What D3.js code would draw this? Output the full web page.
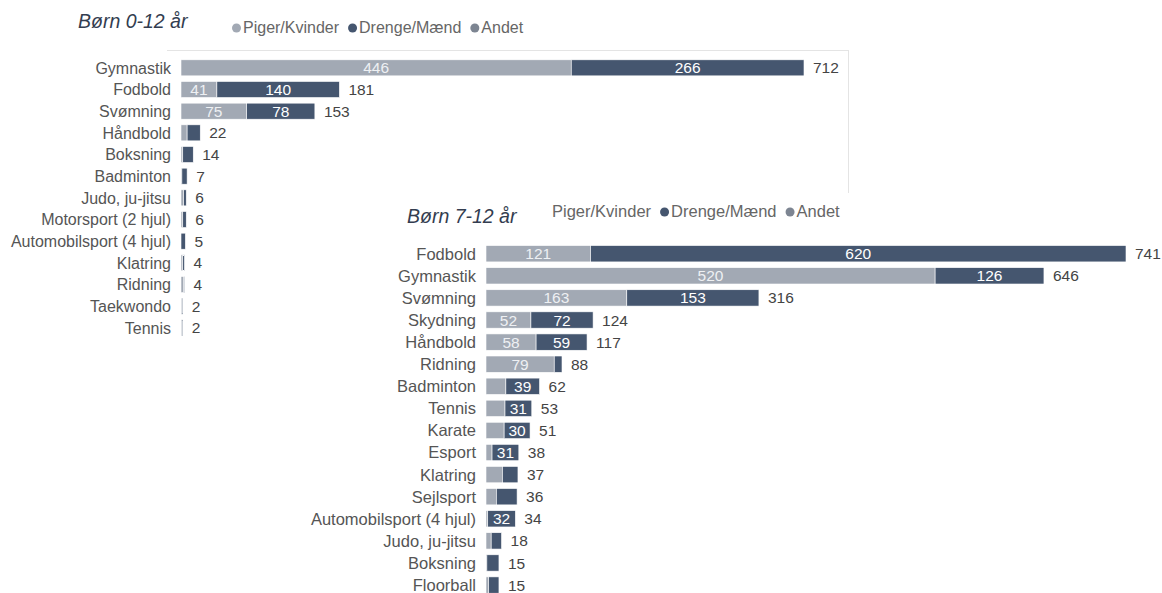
<!DOCTYPE html>
<html>
<head>
  <meta charset="utf-8">
  <title>Børn</title>
  <style>
    body { margin: 0; background: #fff; }
    svg { display: block; font-family: "Liberation Sans", Arial, sans-serif; }
  </style>
</head>
<body>
  <svg></svg>
  <script src="https://cdnjs.cloudflare.com/ajax/libs/d3/7.8.5/d3.min.js"></script>
  <script>
    // Børn 0-12 år
    var sports1 = ["Gymnastik", "Fodbold", "Svømning", "Håndbold", "Boksning", "Badminton", "Judo, ju-jitsu",
      "Motorsport (2 hjul)", "Automobilsport (4 hjul)", "Klatring", "Ridning", "Taekwondo", "Tennis"];
    var girls1 = [446, 41, 75, 7, 2, 1, 3, 2, 0, 2, 3, 1, 1];
    var boys1 = [266, 140, 78, 15, 12, 6, 3, 4, 5, 2, 1, 1, 1];

    // Børn 7-12 år
    var sports2 = ["Fodbold", "Gymnastik", "Svømning", "Skydning", "Håndbold", "Ridning", "Badminton", "Tennis",
      "Karate", "Esport", "Klatring", "Sejlsport", "Automobilsport (4 hjul)", "Judo, ju-jitsu", "Boksning", "Floorball"];
    var girls2 = [121, 520, 163, 52, 58, 79, 23, 22, 21, 7, 19, 12, 2, 6, 1, 3];
    var boys2 = [620, 126, 153, 72, 59, 9, 39, 31, 30, 31, 18, 24, 32, 12, 14, 12];

    var legendItems = ["Piger/Kvinder", "Drenge/Mænd", "Andet"];
    var colors = ["#a2a9b4", "#45566f", "#7d8592"];

    var width = 1162, height = 593;
    var svg = d3.select("svg").attr("width", width).attr("height", height);

    // card edge of the first chart
    svg.append("line").attr("x1", 167).attr("x2", 848).attr("y1", 50.5).attr("y2", 50.5)
      .style("stroke", "#e4e4e4").style("stroke-width", 1);
    svg.append("line").attr("x1", 848.5).attr("x2", 848.5).attr("y1", 50).attr("y2", 193)
      .style("stroke", "#e4e4e4").style("stroke-width", 1);

    function drawChart(opt) {
      var g = svg.append("g");
      var rows = opt.sports.map(function (s, i) {
        return { name: s, girls: opt.girls[i], boys: opt.boys[i], total: opt.girls[i] + opt.boys[i] };
      });

      var x = d3.scaleLinear().domain([0, opt.maxV]).range([opt.x0, opt.x1]);
      var y = d3.scaleBand().domain(opt.sports).range([opt.y0, opt.y1])
        .paddingInner(0.26).paddingOuter(0.13);

      // title
      g.append("text").attr("x", opt.titleX).attr("y", opt.titleY)
        .text(opt.title)
        .style("font-style", "italic").style("font-size", "19.5px").style("fill", "#333d50");

      // legend
      var lx = opt.legendX;
      legendItems.forEach(function (t, i) {
        if (!(opt.noFirstDot && i === 0)) {
          g.append("circle").attr("cx", lx + 4.5).attr("cy", opt.legendY - 5).attr("r", 4.5)
            .style("fill", colors[i]);
          lx += 11;
        }
        var tx = g.append("text").attr("x", lx).attr("y", opt.legendY).text(t)
          .style("font-size", opt.legendSize + "px").style("fill", "#666");
        lx += tx.node().getComputedTextLength() + 9;
      });

      // category labels
      g.selectAll(".cat").data(rows).enter().append("text")
        .attr("x", opt.x0 - 10)
        .attr("y", function (d) { return y(d.name) + y.bandwidth() / 2; })
        .attr("dy", "0.36em")
        .attr("text-anchor", "end")
        .style("font-size", opt.catSize + "px").style("fill", "#555")
        .text(function (d) { return d.name; });

      // bars
      var seg = g.selectAll(".row").data(rows).enter().append("g");
      seg.append("rect")
        .attr("x", x(0))
        .attr("y", function (d) { return y(d.name); })
        .attr("width", function (d) { return x(d.girls) - x(0); })
        .attr("height", y.bandwidth())
        .style("fill", colors[0]).style("stroke", "#fff").style("stroke-width", 0.6);
      seg.append("rect")
        .attr("x", function (d) { return x(d.girls); })
        .attr("y", function (d) { return y(d.name); })
        .attr("width", function (d) { return x(d.total) - x(d.girls); })
        .attr("height", y.bandwidth())
        .style("fill", colors[1]).style("stroke", "#fff").style("stroke-width", 0.6);

      // segment labels
      seg.filter(function (d) { return x(d.girls) - x(0) > 24; }).append("text")
        .attr("x", function (d) { return (x(0) + x(d.girls)) / 2; })
        .attr("y", function (d) { return y(d.name) + y.bandwidth() / 2; })
        .attr("dy", "0.36em").attr("text-anchor", "middle")
        .style("font-size", "15.5px").style("fill", "#eef0f3")
        .text(function (d) { return d.girls; });
      seg.filter(function (d) { return x(d.total) - x(d.girls) > 24; }).append("text")
        .attr("x", function (d) { return (x(d.girls) + x(d.total)) / 2; })
        .attr("y", function (d) { return y(d.name) + y.bandwidth() / 2; })
        .attr("dy", "0.36em").attr("text-anchor", "middle")
        .style("font-size", "15.5px").style("fill", "#fff")
        .text(function (d) { return d.boys; });

      // totals
      seg.append("text")
        .attr("x", function (d) { return x(d.total) + 9; })
        .attr("y", function (d) { return y(d.name) + y.bandwidth() / 2; })
        .attr("dy", "0.36em")
        .style("font-size", "15.5px").style("fill", "#444")
        .text(function (d) { return d.total; });
    }

    drawChart({
      sports: sports1, girls: girls1, boys: boys1, title: "Børn 0-12 år",
      titleX: 78, titleY: 28, legendX: 232, legendY: 33, legendSize: 16, catSize: 16,
      maxV: 712, x0: 181, x1: 804, y0: 57, y1: 338.7
    });

    drawChart({
      sports: sports2, girls: girls2, boys: boys2, title: "Børn 7-12 år",
      titleX: 407, titleY: 223, legendX: 552, legendY: 217, noFirstDot: true, legendSize: 16.5, catSize: 16.5,
      maxV: 741, x0: 486, x1: 1126, y0: 242.7, y1: 596.1
    });
  </script>
</body>
</html>
